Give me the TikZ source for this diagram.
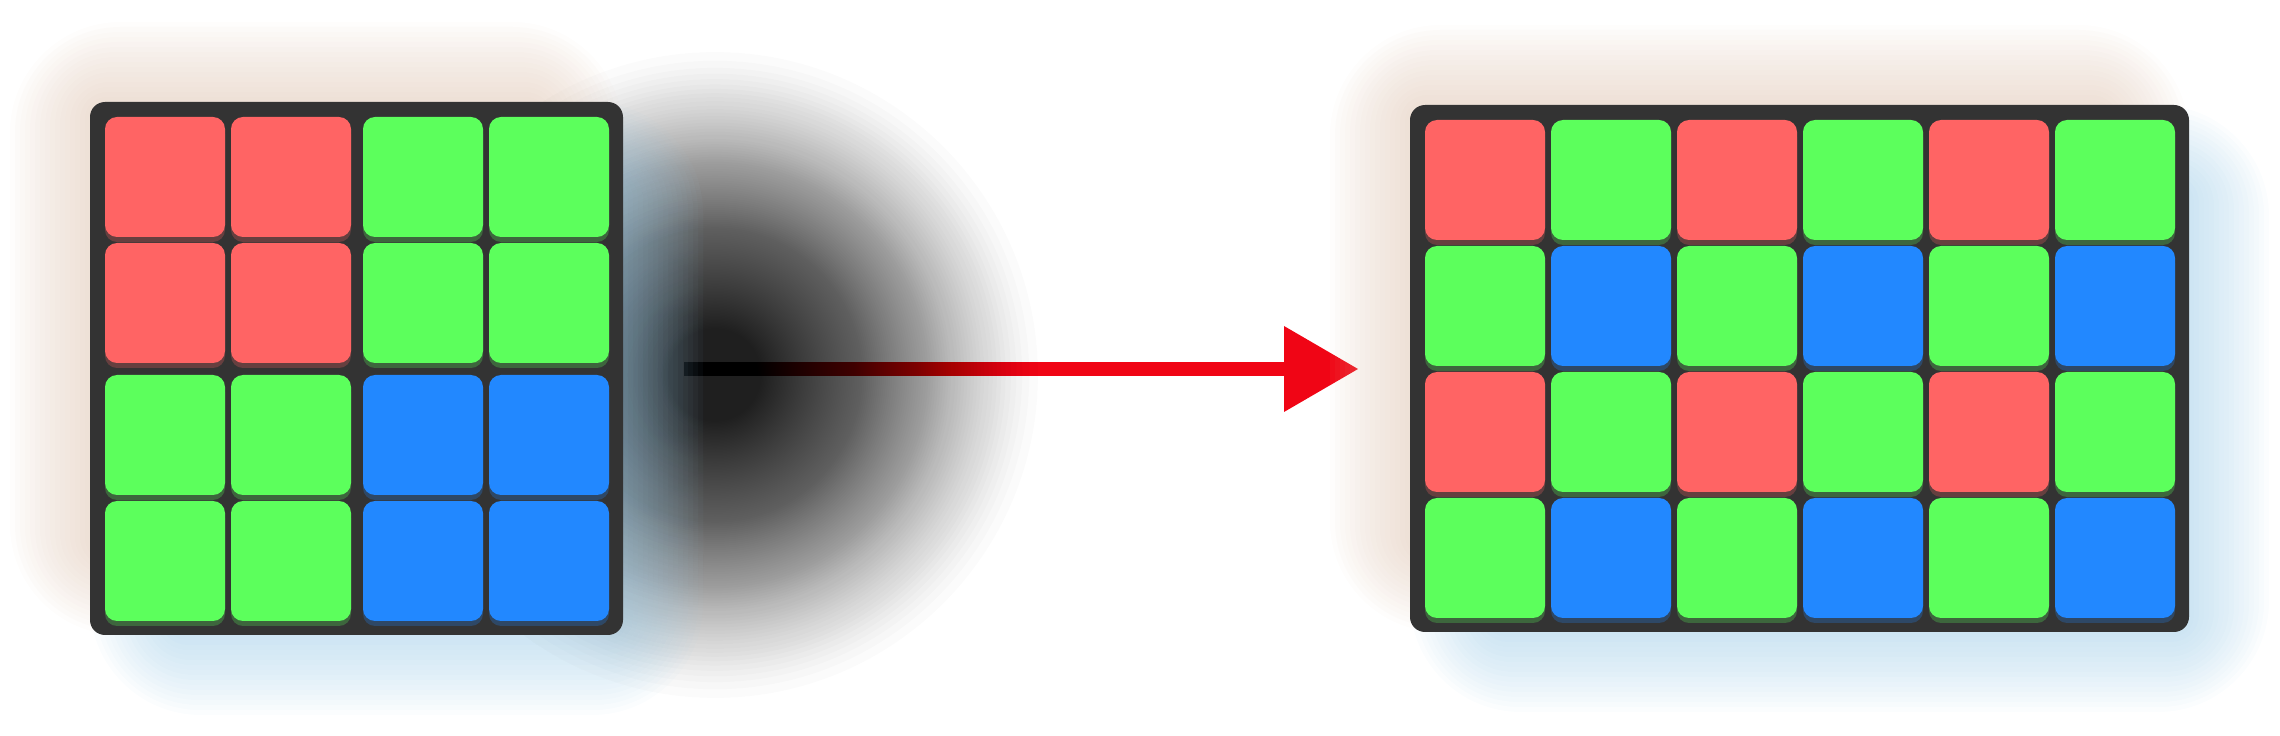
\documentclass[tikz,border=0pt]{standalone}
\usetikzlibrary{arrows.meta}

\definecolor{pxred}{HTML}{FF6464}
\definecolor{pxgreen}{HTML}{5CFF5C}
\definecolor{pxblue}{HTML}{2288FF}
\definecolor{boardgray}{HTML}{333333}
\definecolor{arrowred}{HTML}{F00515}
\definecolor{glowpeach}{HTML}{DCC0AB}
\definecolor{glowblue}{HTML}{98C9E6}

\pgfdeclarelayer{backdrop}
\pgfdeclarelayer{halo}
\pgfsetlayers{backdrop,halo,main}

\begin{document}
\begin{tikzpicture}[
    x=0.1mm, y=0.1mm,
    board/.style = {fill=boardgray, rounded corners=1.5mm, inner sep=0pt, outer sep=0pt},
    cell/.style  = {fill=#1, rounded corners=1.2mm, minimum size=12mm, inner sep=0pt,
                    preaction={fill=#1, opacity=.25, transform canvas={yshift=-0.5mm}}},
    flow/.style  = {draw=arrowred, line width=1.4mm,
                    -{Triangle[length=7.4mm, width=8.6mm, line width=0pt]}}
  ]
    \useasboundingbox (0,0) rectangle (2280,735);

    %% ---- the two boards ----
    \node[board, minimum width=53.3mm, minimum height=53.3mm] (lboard) at (356.5,366.5) {};
    \node[board, minimum width=77.9mm, minimum height=52.7mm] (rboard) at (1799.5,366.5) {};

    %% ---- left board: one colour per 2x2 block ----
    \foreach \rw/\yy/\cols in {1/558/{pxred,pxred,pxgreen,pxgreen},
                               2/432/{pxred,pxred,pxgreen,pxgreen},
                               3/300/{pxgreen,pxgreen,pxblue,pxblue},
                               4/174/{pxgreen,pxgreen,pxblue,pxblue}}
      \foreach \pcol [count=\cc] in \cols
        \node[cell=\pcol] (l\rw\cc) at ({165+126*(\cc-1)+6*(\cc>2)},\yy) {};

    %% ---- right board: bayer mosaic ----
    \foreach \rw/\yy/\cols in {1/555/{pxred,pxgreen,pxred,pxgreen,pxred,pxgreen},
                               2/429/{pxgreen,pxblue,pxgreen,pxblue,pxgreen,pxblue},
                               3/303/{pxred,pxgreen,pxred,pxgreen,pxred,pxgreen},
                               4/177/{pxgreen,pxblue,pxgreen,pxblue,pxgreen,pxblue}}
      \foreach \pcol [count=\cc] in \cols
        \node[cell=\pcol] (r\rw\cc) at ({1485+126*(\cc-1)},\yy) {};

    %% ---- arrow, darkened by a soft blob ----
    \begin{pgfonlayer}{backdrop}
      \coordinate (arrowstart) at (684,366);
      \coordinate (arrowtip)   at (1358,366);
      \coordinate (blob)       at (715,360);
      \draw[flow] (arrowstart) -- (arrowtip);
      \foreach \k in {1,...,160}{
        \pgfmathsetmacro\blobr{34*(1-(\k/161)^0.588)}
        \fill[black, opacity=.016] (blob) circle (\blobr mm);
      }
    \end{pgfonlayer}

    %% ---- peach glow up-left, blue glow down-right ----
    \begin{pgfonlayer}{halo}
      \foreach \brd in {lboard,rboard}
        \foreach \ex in {-40,-35,...,40}{
          \pgfmathsetmacro\glowa{\ex+40}
          \pgfmathsetmacro\glowb{40-(\ex)}
          \pgfmathsetmacro\glowr{(15+1.2*(\ex+40))/10}
          \fill[glowpeach, opacity=.04, rounded corners=\glowr mm]
            ([shift={(-\glowa,\glowa)}]\brd.north west) rectangle ([shift={(-\glowb,\glowb)}]\brd.south east);
          \fill[glowblue, opacity=.04, rounded corners=\glowr mm]
            ([shift={(\glowb,-\glowb)}]\brd.north west) rectangle ([shift={(\glowa,-\glowa)}]\brd.south east);
        }
    \end{pgfonlayer}
\end{tikzpicture}
\end{document}
